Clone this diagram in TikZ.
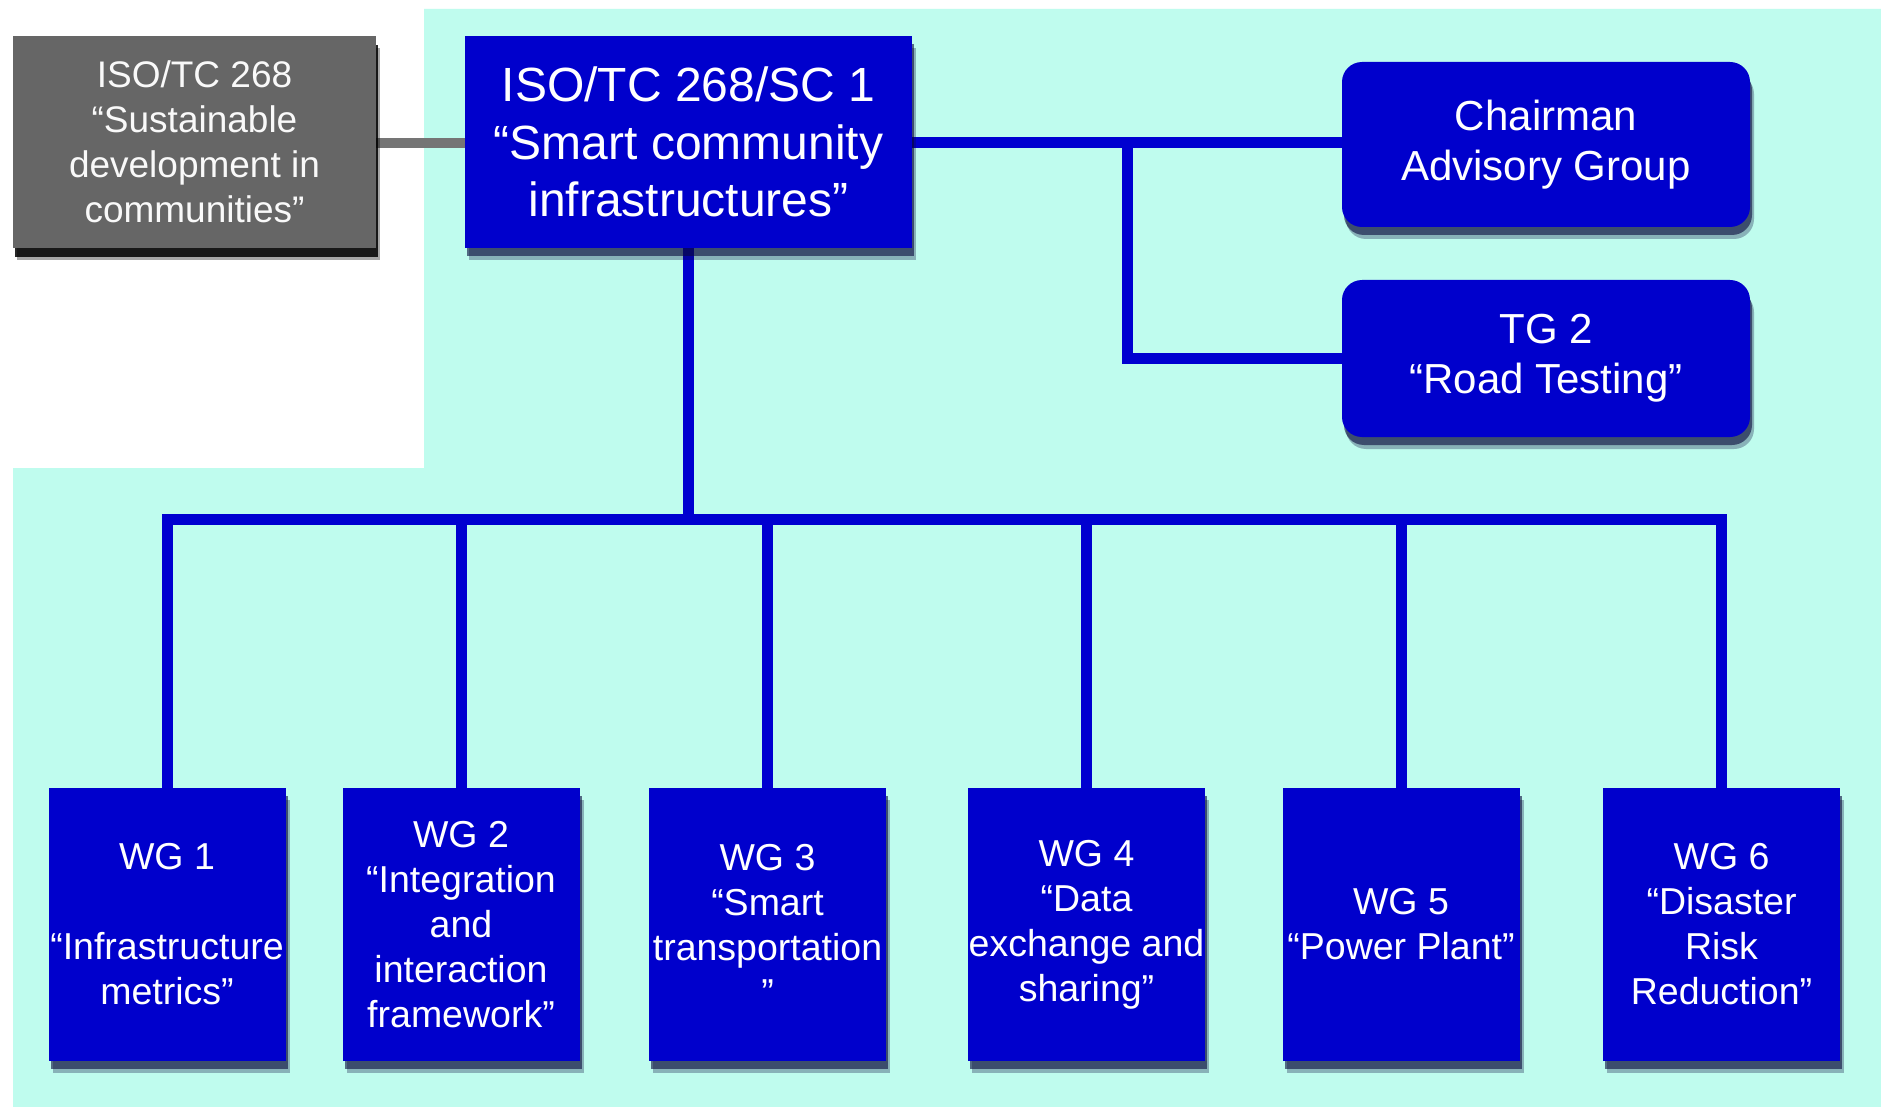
\documentclass[tikz,border=0pt]{standalone}
\usepackage{fontspec}
\setmainfont{Liberation Sans}
\usetikzlibrary{shadows}
\definecolor{bgcyan}{RGB}{191,252,238}
\definecolor{boxblue}{RGB}{0,0,204}
\definecolor{lineblue}{RGB}{0,0,208}
\definecolor{tcgrey}{RGB}{102,102,102}
\definecolor{shadowcol}{RGB}{10,10,60}
\begin{document}
\begin{tikzpicture}[x=1pt,y=-1pt,
  shad/.style={drop shadow={shadow xshift=4pt, shadow yshift=-12pt, fill=shadowcol, opacity=0.3},
               drop shadow={shadow xshift=2pt, shadow yshift=-8pt, fill=shadowcol, opacity=0.6}},
  bluebox/.style={rectangle, fill=boxblue, text=white, align=center, inner sep=0pt, shad},
  greybox/.style={rectangle, fill=tcgrey, text=white!95!gray, align=center, inner sep=0pt,
     drop shadow={shadow xshift=4pt, shadow yshift=-12pt, fill=black, opacity=0.35},
     drop shadow={shadow xshift=2pt, shadow yshift=-9pt, fill=black, opacity=0.85},
     font=\fontsize{37}{45}\selectfont},
  mainbox/.style={bluebox, font=\fontsize{48}{57.6}\selectfont},
  sidebox/.style={bluebox, rounded corners=20pt, minimum width=408pt, font=\fontsize{42}{50}\selectfont},
  wgbox/.style={bluebox, minimum width=237pt, minimum height=273pt, font=\fontsize{37.5}{45}\selectfont},
  conn/.style={draw=lineblue, line width=11pt, line join=miter},
  greyconn/.style={draw=tcgrey!90!white, line width=10pt}
]
\useasboundingbox (0,0) rectangle (1881,1107);
\fill[white] (0,0) rectangle (1881,1107);
\fill[bgcyan] (424,9) -- (1881,9) -- (1881,1107) -- (13,1107) -- (13,468) -- (424,468) -- cycle;

% connectors first (under boxes)
\coordinate (tcr) at (376,143);
\coordinate (scl) at (465,143);
\coordinate (scr) at (912,143);
\coordinate (br) at (1127,143);
\coordinate (cagl) at (1342,143);
\coordinate (tgl) at (1342,358.5);
\coordinate (scb) at (688.5,248);
\coordinate (bus) at (688.5,519);
\coordinate (d1) at (167,788);
\coordinate (d2) at (461,788);
\coordinate (d3) at (767.5,788);
\coordinate (d4) at (1086.5,788);
\coordinate (d5) at (1401,788);
\coordinate (d6) at (1721.5,788);

\draw[greyconn] (tcr) -- (scl);
\draw[conn] (scr) -- (cagl);
\draw[conn] (br) |- (tgl);
\draw[conn] (scb) -- (bus);
\draw[conn] (d1) -- (d1 |- bus) -- (d6 |- bus) -- (d6);
\draw[conn] (d2) -- (d2 |- bus);
\draw[conn] (d3) -- (d3 |- bus);
\draw[conn] (d4) -- (d4 |- bus);
\draw[conn] (d5) -- (d5 |- bus);

\node[greybox, minimum width=363pt, minimum height=212pt] (tc) at (194.5,142)
  {ISO/TC 268\\“Sustainable\\development in\\communities”};
\node[mainbox, minimum width=447pt, minimum height=212pt] (sc) at (688.5,142)
  {ISO/TC 268/SC 1\\“Smart community\\infrastructures”};
\node[sidebox, minimum height=165pt] (cag) at (1546,144.5)
  {Chairman\\Advisory Group};
\node[sidebox, minimum height=157pt] (tg) at (1546,358.5)
  {TG 2\\“Road Testing”};

\node[wgbox] (wg1) at (167,924.5) {WG 1\\\mbox{}\\“Infrastructure\\metrics”};
\node[wgbox] (wg2) at (461,924.5) {WG 2\\“Integration\\and\\interaction\\framework”};
\node[wgbox] (wg3) at (767.5,924.5) {WG 3\\“Smart\\transportation\\”};
\node[wgbox] (wg4) at (1086.5,924.5) {WG 4\\“Data\\exchange and\\sharing”};
\node[wgbox] (wg5) at (1401,924.5) {WG 5\\“Power Plant”};
\node[wgbox] (wg6) at (1721.5,924.5) {WG 6\\“Disaster\\Risk\\Reduction”};
\end{tikzpicture}
\end{document}
